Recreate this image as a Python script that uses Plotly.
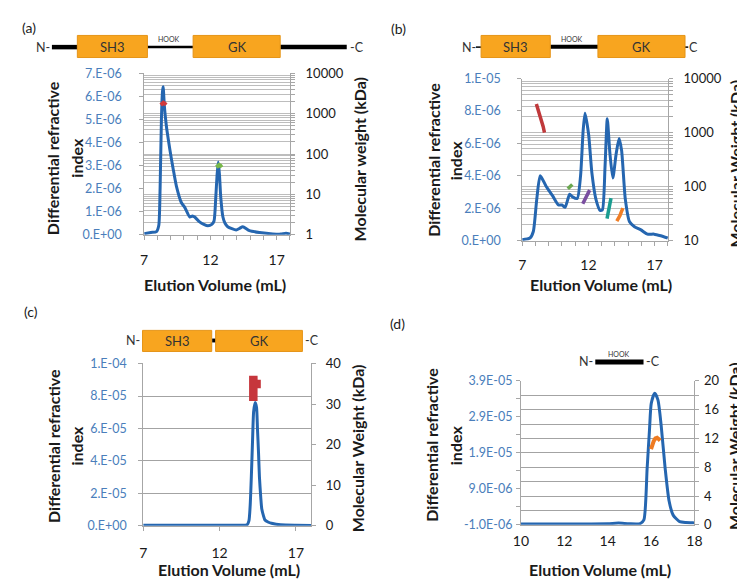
import plotly.graph_objects as go

W, H = 745, 580
FONT = "Lato, Arial, sans-serif"
BLUE = "#2566b0"
TICKBLUE = "#4a7ebb"
AXGRAY = "#a6a6a6"
GRID_LIGHT = "#bdbdbd"
GRID_DARK = "#a3a3a3"
ORANGE = "#f8a51f"

# ---------------- Panel (a) : SH3-HOOK-GK ----------------
a_vol = [7.0, 7.5, 7.93, 8.1, 8.2, 8.3, 8.38, 8.43, 8.52, 8.6, 8.7, 8.93, 9.18, 9.43, 9.8,
         10.06, 10.44, 10.65, 10.81, 11.18, 11.5, 11.81, 12.1, 12.27, 12.4, 12.5, 12.59,
         12.68, 12.78, 12.94, 13.1, 13.3, 13.94, 14.2, 14.44, 14.94, 15.7, 16.7, 17.3,
         17.7, 18.0]
a_dri = [0.05, 0.1, 0.14, 0.4, 2.0, 5.0, 6.2, 6.42, 5.6, 5.1, 4.6, 3.72, 2.88, 2.11, 1.40,
         1.19, 0.77, 0.82, 0.77, 0.56, 0.45, 0.39, 0.45, 0.6, 1.6, 2.6, 3.16,
         2.6, 1.6, 0.77, 0.5, 0.35, 0.21, 0.28, 0.35, 0.18, 0.1, 0.04, 0.03,
         0.07, 0.03]                      # x 1e-6
a_mw1_vol = [8.25, 8.35, 8.45, 8.55, 8.65]
a_mw1 = [1650, 1800, 1880, 1800, 1650]   # kDa
a_mw2_vol = [12.45, 12.55, 12.65, 12.75, 12.85]
a_mw2 = [47, 52, 54, 52, 47]             # kDa
a_left_ticks = [0, 1, 2, 3, 4, 5, 6, 7]
a_left_labels = ["0.E+00", "1.E-06", "2.E-06", "3.E-06", "4.E-06", "5.E-06", "6.E-06", "7.E-06"]
a_right_decades = [1, 10, 100, 1000, 10000]
a_right_labels = ["1", "10", "100", "1000", "10000"]

# ---------------- Panel (b) : SH3-HOOK-GK (variant) ----------------
b_vol = [7.0, 7.59, 7.84, 8.1, 8.36, 8.8, 9.3, 9.74, 10.0, 10.24, 10.58, 10.8, 11.15, 11.4,
         11.6, 11.74, 12.01, 12.26, 12.56, 12.88, 13.05, 13.25, 13.42, 13.62, 13.84, 14.09,
         14.31, 14.5, 14.78, 15.1, 15.47, 15.96, 16.45, 16.95, 17.45, 17.98]
b_dri = [0.06, 0.16, 0.56, 2.56, 4.0, 3.36, 2.76, 2.2, 2.2, 2.06, 2.86, 2.7, 2.6, 3.96,
         6.8, 7.86, 6.56, 4.16, 2.56, 1.86, 1.9, 4.56, 7.52, 5.36, 3.86, 5.36,
         6.3, 5.56, 2.56, 1.16, 0.86, 0.66, 0.4, 0.4, 0.3, 0.16]          # x 1e-6
b_mw_red_vol = [8.07, 8.2, 8.3, 8.45, 8.58, 8.68]
b_mw_red = [3400, 2700, 2200, 1750, 1300, 1000]
b_mw_green_vol = [10.44, 10.55, 10.66, 10.78]
b_mw_green = [91, 97, 104, 109]
b_mw_purple_vol = [11.57, 11.7, 11.83, 11.96, 12.09]
b_mw_purple = [48, 55, 64, 75, 86]
b_mw_teal_vol = [13.4, 13.5, 13.6, 13.7]
b_mw_teal = [25.6, 33, 45, 61]
b_mw_orange_vol = [14.14, 14.25, 14.37, 14.48, 14.6]
b_mw_orange = [23, 25.5, 29, 34, 40]
b_left_ticks = [0, 2, 4, 6, 8, 10]
b_left_labels = ["0.E+00", "2.E-06", "4.E-06", "6.E-06", "8.E-06", "1.E-05"]
b_right_decades = [10, 100, 1000, 10000]
b_right_labels = ["10", "100", "1000", "10000"]

# ---------------- Panel (c) : SH3-GK ----------------
c_vol = [7.0, 10.0, 13.0, 13.8, 13.92, 14.0, 14.08, 14.16, 14.23, 14.33, 14.42, 14.48, 14.55,
         14.61, 14.7, 14.76, 14.88, 14.97, 15.2, 15.4, 16.0, 17.0, 18.0]
c_dri = [0.03, 0.03, 0.04, 0.06, 0.3, 1.2, 3.05, 5.3, 7.04, 7.6, 7.3, 6.0, 4.5,
         3.0, 1.7, 1.05, 0.6, 0.36, 0.22, 0.16, 0.06, 0.03, 0.02]       # x 1e-5
c_mw_vol = [14.21, 14.21, 14.21, 14.22, 14.45, 14.7]
c_mw = [30.8, 34.0, 37.0, 35.0, 35.0, 35.0]   # kDa
c_left_ticks = [0, 2, 4, 6, 8, 10]
c_left_labels = ["0.E+00", "2.E-05", "4.E-05", "6.E-05", "8.E-05", "1.E-04"]
c_right_ticks = [0, 10, 20, 30, 40]
c_right_labels = ["0", "10", "20", "30", "40"]

# ---------------- Panel (d) : HOOK ----------------
d_vol = [10.0, 11.0, 12.0, 13.0, 14.0, 14.5, 15.0, 15.5, 15.67, 15.82, 15.93, 16.01, 16.17,
         16.32, 16.47, 16.65, 16.83, 17.02, 17.32, 17.6, 17.92, 18.0]
d_dri = [-0.073, -0.073, -0.075, -0.073, -0.07, -0.05, -0.07, -0.065, 0.035, 1.47, 2.55, 3.27,
         3.55, 3.36, 2.64, 1.47, 0.57, 0.17, -0.01, -0.035, -0.04, -0.045]   # x 1e-5
d_mw_vol = [16.0, 16.06, 16.12, 16.2, 16.28, 16.36, 16.42]
d_mw = [10.5, 11.1, 11.6, 12.0, 12.1, 11.9, 11.7]   # kDa
d_left_ticks = [-0.1, 0.9, 1.9, 2.9, 3.9]
d_left_labels = ["-1.0E-06", "9.0E-06", "1.9E-05", "2.9E-05", "3.9E-05"]
d_right_ticks = [0, 2, 4, 6, 8, 10, 12, 14, 16, 18, 20]
d_right_labels = ["0", "", "4", "", "8", "", "12", "", "16", "", "20"]
d_x_ticks = [10, 12, 14, 16, 18]

# ---------------- helpers ----------------
def px(X):
    return X / W

def py(Y):
    return 1 - Y / H

def log_grid(decades):
    vals = []
    for i, d in enumerate(decades):
        if i == len(decades) - 1:
            vals.append(d)
            break
        for m in range(1, 10):
            vals.append(d * m)
    return vals

fig = go.Figure()

SPL = dict(shape="spline", smoothing=0.6)
fig.add_trace(go.Scatter(x=a_vol, y=a_dri, mode="lines", line=dict(color=BLUE, width=3, **SPL),
                         xaxis="x", yaxis="y", showlegend=False))
fig.add_trace(go.Scatter(x=a_mw1_vol, y=a_mw1, mode="lines", line=dict(color="#d0393b", width=4),
                         xaxis="x", yaxis="y2", showlegend=False))
fig.add_trace(go.Scatter(x=a_mw2_vol, y=a_mw2, mode="lines", line=dict(color="#78b84a", width=4),
                         xaxis="x", yaxis="y2", showlegend=False))

fig.add_trace(go.Scatter(x=b_vol, y=b_dri, mode="lines", line=dict(color=BLUE, width=3, **SPL),
                         xaxis="x2", yaxis="y3", showlegend=False))
for vx, vy, col in [(b_mw_red_vol, b_mw_red, "#c0393b"), (b_mw_green_vol, b_mw_green, "#6aa84f"),
                    (b_mw_purple_vol, b_mw_purple, "#7a4ea0"), (b_mw_teal_vol, b_mw_teal, "#1a9c90"),
                    (b_mw_orange_vol, b_mw_orange, "#f07e26")]:
    fig.add_trace(go.Scatter(x=vx, y=vy, mode="lines", line=dict(color=col, width=3.5),
                             xaxis="x2", yaxis="y4", showlegend=False))

fig.add_trace(go.Scatter(x=c_vol, y=c_dri, mode="lines", line=dict(color=BLUE, width=3, **SPL),
                         xaxis="x3", yaxis="y5", showlegend=False))
fig.add_trace(go.Scatter(x=c_mw_vol, y=c_mw, mode="lines", line=dict(color="#c6363c", width=8.5),
                         xaxis="x3", yaxis="y6", showlegend=False))

fig.add_trace(go.Scatter(x=d_vol, y=d_dri, mode="lines", line=dict(color=BLUE, width=3, **SPL),
                         xaxis="x4", yaxis="y7", showlegend=False))
fig.add_trace(go.Scatter(x=d_mw_vol, y=d_mw, mode="lines", line=dict(color="#ee7b22", width=4),
                         xaxis="x4", yaxis="y8", showlegend=False))

tickfont_blue = dict(family=FONT, size=12.5, color=TICKBLUE)
tickfont_black = dict(family=FONT, size=13, color="#1a1a1a")
tickfont_x = dict(family=FONT, size=14, color="#1a1a1a")

def xax(domain, anchor, rng, tickvals, minor=True, ticks="outside", standoff=8):
    d = dict(domain=domain, anchor=anchor, range=rng, tickmode="array", tickvals=tickvals,
             ticks=ticks, ticklen=4, tickcolor=AXGRAY, showline=True, linecolor=AXGRAY,
             linewidth=1, showgrid=False, zeroline=False, tickfont=tickfont_x,
             ticklabelstandoff=standoff)
    if minor:
        d["minor"] = dict(dtick=1, tick0=7, ticks="outside", ticklen=4, tickcolor=AXGRAY)
    return d

def yleft(domain, anchor, rng, tickvals, ticktext, showgrid=False, standoff=12, gridcolor=GRID_DARK):
    return dict(domain=domain, anchor=anchor, range=rng, tickmode="array", tickvals=tickvals,
                ticktext=ticktext, ticks="outside", ticklen=4, tickcolor=AXGRAY, showline=True,
                linecolor=AXGRAY, showgrid=showgrid, gridcolor=gridcolor, gridwidth=1,
                zeroline=False, tickfont=tickfont_blue, ticklabelstandoff=standoff)

def yright(overlay, anchor, rng, tickvals, ticktext, showgrid, gridcolor, standoff, log=False):
    d = dict(overlaying=overlay, anchor=anchor, side="right", range=rng, tickmode="array",
             tickvals=tickvals, ticktext=ticktext, ticks="outside", ticklen=4, tickcolor=AXGRAY,
             showline=True, linecolor=AXGRAY, showgrid=showgrid, gridcolor=gridcolor, gridwidth=1,
             zeroline=False, tickfont=tickfont_black, ticklabelstandoff=standoff)
    if log:
        d["type"] = "log"
    return d

a_grid = log_grid(a_right_decades)
a_text = [a_right_labels[a_right_decades.index(v)] if v in a_right_decades else "" for v in a_grid]
b_grid = log_grid(b_right_decades)
b_text = [b_right_labels[b_right_decades.index(v)] if v in b_right_decades else "" for v in b_grid]

fig.update_layout(
    width=W, height=H, margin=dict(l=0, r=0, t=0, b=0),
    paper_bgcolor="white", plot_bgcolor="white", font=dict(family=FONT),
    xaxis=xax([px(131), px(280)], "y", [7, 18], [7, 12, 17], standoff=8),
    yaxis=yleft([py(225), py(59)], "x", [0, 7], a_left_ticks, a_left_labels, standoff=15),
    yaxis2=yright("y", "x", [0, 4.001], a_grid, a_text, True, GRID_LIGHT, 8, log=True),
    xaxis2=xax([px(517.3), px(666.3)], "y3", [7, 18], [7, 12, 17], standoff=8),
    yaxis3=yleft([py(231), py(64.3)], "x2", [0, 10], b_left_ticks, b_left_labels, standoff=14),
    yaxis4=yright("y3", "x2", [1, 4.001], b_grid, b_text, True, GRID_LIGHT, 8, log=True),
    xaxis3=xax([px(130), px(301.7)], "y5", [7, 18], [7, 12, 17], minor=False, standoff=10),
    yaxis5=yleft([py(524.3), py(357.3)], "x3", [0, 10.01], c_left_ticks, c_left_labels,
                 showgrid=True, standoff=9),
    yaxis6=yright("y5", "x3", [0, 40.04], c_right_ticks, c_right_labels, False, GRID_DARK, 7),
    xaxis4=xax([px(516), px(693.3)], "y7", [10, 18], d_x_ticks, minor=False, ticks="", standoff=3),
    yaxis7=yleft([py(523.3), py(375)], "x4", [-0.1, 3.9], d_left_ticks, d_left_labels, standoff=1),
    yaxis8=yright("y7", "x4", [0, 20.02], d_right_ticks, d_right_labels, True, GRID_DARK, 2),
)
fig.layout.yaxis7.minor = dict(dtick=0.5, tick0=-0.1, ticks="outside", ticklen=4, tickcolor=AXGRAY)

# ---------------- text annotations ----------------
ann = []
def text(X, Y, s, size=13, bold=False, angle=0, xanchor="center", color="#1a1a1a"):
    ann.append(dict(x=px(X), y=py(Y), xref="paper", yref="paper", text=("<b>%s</b>" % s) if bold else s,
                    showarrow=False, textangle=angle, xanchor=xanchor, yanchor="middle",
                    font=dict(family=FONT, size=size, color=color)))

text(13, 12, "(a)", 14)
text(391, 13, "(b)", 14)
text(15, 304, "(c)", 14)
text(390, 316, "(d)", 14)

TSZ = 16
for xa, xb, yc in [(38, 62, 146), (427, 450, 148), (39, 62, 442), (425, 449, 441)]:
    text(xa, yc, "Differential refractive", TSZ, True, -90)
    text(xb, yc, "index", TSZ, True, -90)
text(352, 147, "Molecular weight (kDa)", TSZ, True, -90)
text(735.5, 152, "Molecular Weight (kDa)", TSZ, True, -90)
text(349, 445, "Molecular Weight (kDa)", TSZ, True, -90)
text(735, 442, "Molecular Weight (kDa)", TSZ, True, -90)
text(203, 276, "Elution Volume (mL)", TSZ, True)
text(597.5, 276, "Elution Volume (mL)", TSZ, True)
text(217.5, 569, "Elution Volume (mL)", TSZ, True)
text(597, 569.5, "Elution Volume (mL)", TSZ, True)

# ---------------- domain diagrams (decoration) ----------------
shapes = []
def rect(x0, x1, y0, y1, fill=ORANGE, line=None):
    shapes.append(dict(type="rect", xref="paper", yref="paper", x0=px(x0), x1=px(x1), y0=py(y1), y1=py(y0),
                       fillcolor=fill, line=dict(width=1 if line else 0, color=line or fill), layer="above"))

def hline(x0, x1, Y, w):
    shapes.append(dict(type="line", xref="paper", yref="paper", x0=px(x0), x1=px(x1), y0=py(Y), y1=py(Y),
                       line=dict(color="black", width=w), layer="above"))

# (a)
hline(36.7, 63, 32, 4.5)
hline(134, 181, 32, 2.5)
hline(270, 338, 32, 4.5)
rect(62.7, 134.3, 20, 42.7, line="#e59418")
rect(181, 270, 20, 42.7, line="#e59418")
text(37, 32, "N-", 12.5, xanchor="right", color="#333")
text(339, 32, "-C", 12.5, xanchor="left", color="#333")
text(98.5, 32, "SH3", 13, color="#333")
text(225.5, 32, "GK", 13, color="#333")
text(156, 24, "HOOK", 7, color="#333")
# (b)
hline(470, 476, 32, 1.5)
hline(546, 595, 31.7, 4)
hline(683, 687, 32, 1.5)
rect(475.3, 546, 20, 42.7, line="#e59418")
rect(594.7, 683.7, 20, 42.7, line="#e59418")
text(472, 32, "N-", 12.5, xanchor="right", color="#333")
text(686, 32, "C", 12.5, xanchor="left", color="#333")
text(510.7, 32, "SH3", 13, color="#333")
text(639, 32, "GK", 13, color="#333")
text(568.7, 24, "HOOK", 7, color="#333")
# (c)
rect(129.3, 200, 323.3, 345, line="#e59418")
rect(204, 292.7, 323.3, 345, line="#e59418")
rect(200.5, 203.5, 331.7, 335.7, fill="black")
text(129, 334, "N-", 12.5, xanchor="right", color="#333")
text(293, 334, "-C", 12.5, xanchor="left", color="#333")
text(164.7, 334, "SH3", 13, color="#333")
text(248.3, 334, "GK", 13, color="#333")
# (d)
hline(592, 641.3, 355.7, 5)
text(592, 355.7, "N-", 12.5, xanchor="right", color="#333")
text(641.3, 355.7, "-C", 12.5, xanchor="left", color="#333")
text(616.3, 347.3, "HOOK", 7, color="#333")

fig.update_layout(annotations=ann, shapes=shapes)
fig.write_html("out.html")
